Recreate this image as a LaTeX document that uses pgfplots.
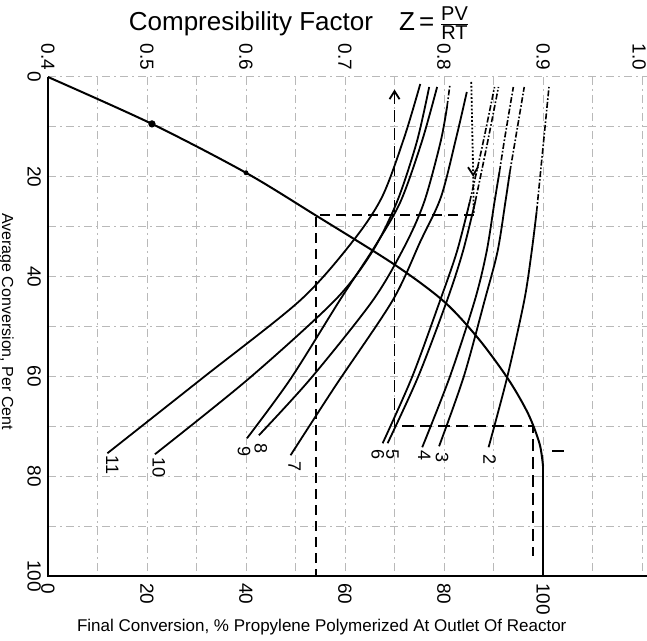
\documentclass[border=0pt]{standalone}
\usepackage{pgfplots}
\pgfplotsset{compat=1.18}
\usepackage{fontspec}
\setmainfont{Liberation Sans}
\usetikzlibrary{calc,arrows.meta}

\begin{document}
\begin{tikzpicture}
\begin{axis}[
  scale only axis, width=299.5pt, height=249.5pt,
  xmin=0, xmax=121, ymin=0, ymax=100, y dir=reverse,
  axis line style={draw=none},
  xtick={0,20,40,60,80,100}, xticklabels={0,20,40,60,80,100},
  minor xtick={10,30,50,70,90,110,120},
  ytick={0,20,40,60,80,100}, yticklabels={0,20,40,60,80,100},
  minor ytick={10,30,50,70,90},
  xticklabel pos=left,
  grid=both,
  major grid style={gray!55, line width=0.5pt, dash pattern=on 4pt off 2pt on 1pt off 2pt},
  minor grid style={gray!55, line width=0.5pt, dash pattern=on 4pt off 2pt on 1pt off 2pt},
  major tick length=0pt, minor tick length=0pt,
  tick label style={font=\fontsize{9.5}{10}\selectfont},
  xticklabel style={rotate=-90, anchor=west, xshift=0pt},
  yticklabel style={rotate=-90, anchor=north},
  every axis x label/.style={at={(ticklabel cs:0.457)}, anchor=north, yshift=4.5pt, font=\fontsize{8.5}{10}\selectfont},
  every axis y label/.style={at={(ticklabel cs:0.51)}, rotate=-90, anchor=north, font=\fontsize{8}{10}\selectfont},
  xlabel={Final Conversion, \% Propylene Polymerized At Outlet Of Reactor},
  ylabel={Average Conversion, Per Cent},
  clip=false,
]
\coordinate (TL) at (axis cs:0,0);
\coordinate (BR) at (axis cs:121,100);
% frame
\draw[black, line width=1pt] (axis cs:0,0) -- (axis cs:0,100) -- (axis cs:121,100);

% main conversion curve
\addplot[black, line width=1pt, smooth, tension=0.5] coordinates {
 (0,0) (21,9.4) (40,19.2) (54.2,27.8) (70,37.6) (80,45) (87,52.5) (93,60.6) (97,67.5) (99.3,73.5) (100,78)};
\addplot[black, line width=1pt] coordinates {(100,78) (100,100)};
\addplot[only marks, mark=*, mark size=1.6pt, black] coordinates {(21,9.4)};
\addplot[only marks, mark=*, mark size=1pt, black] coordinates {(40,19.2)};
\addplot[only marks, mark=-, mark size=3pt, line width=1pt, black] coordinates {(103,75)};

% compressibility curves
\addplot[black, line width=0.9pt, smooth] coordinates {(12,75.4) (31,60.5) (50.9,44.8) (61.5,33) (67.5,24) (72,12) (75.2,1.4)};
\addplot[black, line width=0.9pt, smooth] coordinates {(21.6,75.6) (40.5,60.5) (57.9,44.8) (65.5,35) (70.5,25) (74.5,13) (77,2)};
\addplot[black, line width=0.9pt, smooth] coordinates {(40.2,72.4) (49,60.5) (58.9,44.8) (66,34) (71.2,25) (75.5,13) (78.6,2)};
\addplot[black, line width=0.9pt, smooth] coordinates {(42.6,71.8) (53,60.5) (65.6,44.8) (72,34) (76,25) (79.3,13) (80.6,6)};
\addplot[black, line width=0.8pt, densely dashdotted] coordinates {(80.6,6) (81.2,1.5)};
\addplot[black, line width=0.9pt, smooth] coordinates {(49,75.8) (58,62) (69.6,44.8) (75.2,33) (79.4,24) (82.5,12) (84.6,3)};
\addplot[black, line width=0.9pt, smooth] coordinates {(67.6,73.4) (73.6,60) (79.2,44.8) (82.6,35) (85.2,25)};
\addplot[black, line width=0.8pt, smooth, densely dashdotted] coordinates {(85.2,25) (87.7,14) (90.2,2)};
\addplot[black, line width=0.9pt, smooth] coordinates {(68.6,73.4) (74.8,60) (80.6,44.8) (83.8,35) (86.3,25)};
\addplot[black, line width=0.8pt, smooth, densely dashdotted] coordinates {(86.3,25) (88.6,14) (91,2)};
\addplot[black, line width=0.9pt, smooth] coordinates {(75.6,74.2) (81.2,60) (86.2,44.8) (88.6,35) (90.2,25) (91.2,19)};
\addplot[black, line width=0.8pt, smooth, densely dashdotted] coordinates {(91.2,19) (92.3,12) (94,2)};
\addplot[black, line width=0.9pt, smooth] coordinates {(79,74) (84,60) (88.2,44.8) (90.8,35) (92.4,25) (93.3,19)};
\addplot[black, line width=0.8pt, smooth, densely dashdotted] coordinates {(93.3,19) (94.5,12) (96.2,2)};
\addplot[black, line width=0.9pt, smooth] coordinates {(89,74.2) (92.8,60) (96.2,44.8) (97.7,35) (98.7,27)};
\addplot[black, line width=0.8pt, smooth, densely dashdotted] coordinates {(98.7,27) (100.1,13) (101.2,2)};

% worked examples
\addplot[black, line width=0.9pt, dash pattern=on 6pt off 3pt, {Straight Barb[length=4pt,width=5pt]}-] coordinates {(70,2.5) (70,70) (98,70) (98,96)};
\addplot[black, line width=0.9pt, densely dotted, -{Straight Barb[length=4pt,width=5pt]}] coordinates {(85.5,1) (85.9,20)};
\addplot[black, line width=0.9pt, densely dotted] coordinates {(85.9,20) (86,27.6)};
\addplot[black, line width=0.9pt, dash pattern=on 5pt off 3pt] coordinates {(86,27.6) (54.2,27.6) (54.2,100)};

% curve labels
\begin{scope}[every node/.style={rotate=-90, font=\fontsize{9}{10}\selectfont, inner sep=0.5pt}]
\node at (axis cs:13,77.8) {11};
\node at (axis cs:22.4,78.2) {10};
\node at (axis cs:39.6,75) {9};
\node at (axis cs:43,74.4) {8};
\node at (axis cs:49.8,78) {7};
\node at (axis cs:66.6,75.6) {6};
\node at (axis cs:69.6,75.6) {5};
\node at (axis cs:76,75.8) {4};
\node at (axis cs:79.6,76.2) {3};
\node at (axis cs:89.2,76.6) {2};
\end{scope}
\end{axis}

\begin{axis}[
  scale only axis, width=299.5pt, height=249.5pt,
  xmin=0.4, xmax=1.005, ymin=0, ymax=1,
  axis line style={draw=none}, ytick=\empty,
  xtick={0.4,0.5,0.6,0.7,0.8,0.9,0.997},
  xticklabels={0.4,0.5,0.6,0.7,0.8,0.9,1.0},
  xticklabel pos=upper, major tick length=0pt,
  tick label style={font=\fontsize{9.5}{10}\selectfont},
  xticklabel style={rotate=-90, anchor=east},
  title={Compresibility Factor\quad Z\,=\,$\frac{\mbox{\fontsize{10}{11}\selectfont PV}}{\mbox{\fontsize{10}{11}\selectfont RT}}$},
  title style={at={(rel axis cs:0.42,1)}, anchor=center, yshift=21pt, font=\fontsize{13}{15}\selectfont},
]
\end{axis}
\pgfresetboundingbox
\path[use as bounding box] ($(TL)+(-24pt,38.5pt)$) rectangle ($(BR)+(0pt,-32.5pt)$);
\end{tikzpicture}
\end{document}
